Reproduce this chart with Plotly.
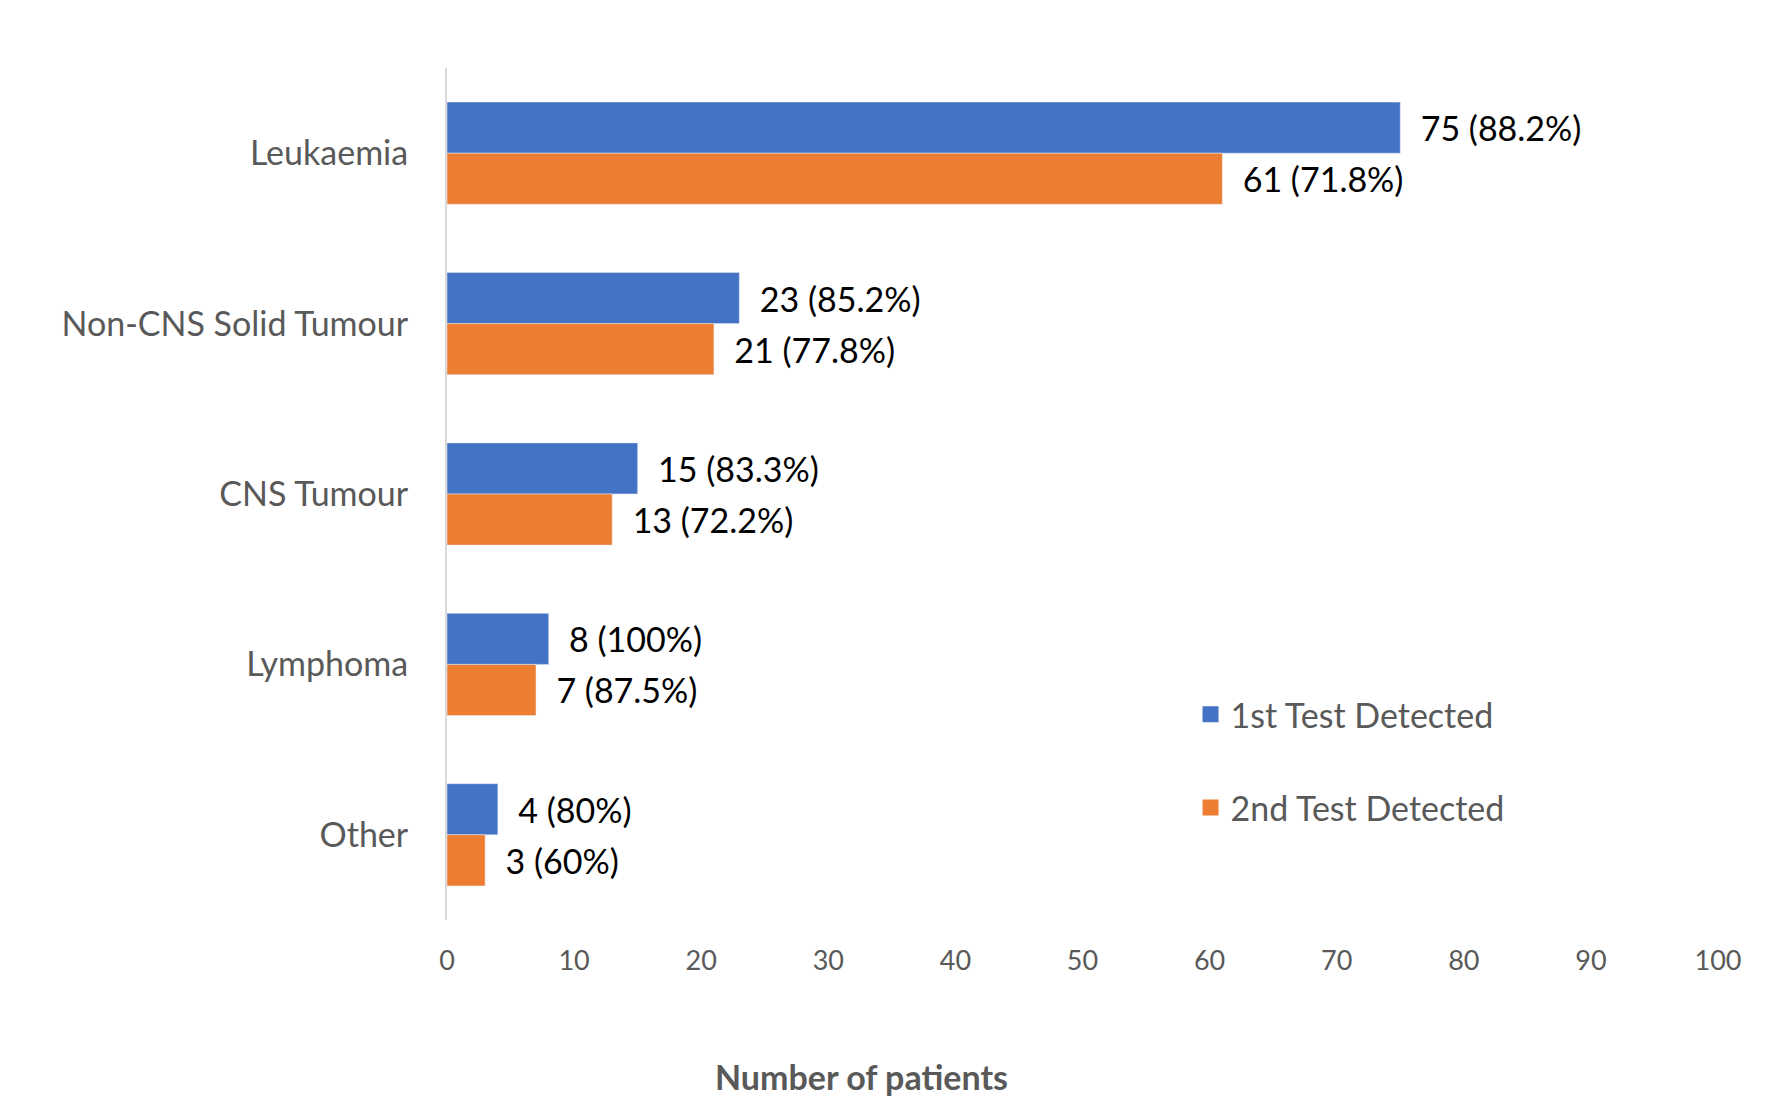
import plotly.graph_objects as go

categories = ["Leukaemia", "Non-CNS Solid Tumour", "CNS Tumour", "Lymphoma", "Other"]
first_counts = [75, 23, 15, 8, 4]
first_pct = ["88.2%", "85.2%", "83.3%", "100%", "80%"]
second_counts = [61, 21, 13, 7, 3]
second_pct = ["71.8%", "77.8%", "72.2%", "87.5%", "60%"]
x_ticks = [0, 10, 20, 30, 40, 50, 60, 70, 80, 90, 100]

FONT = "Lato, Open Sans, sans-serif"
GRAY = "#595959"
BLUE = "#4472C4"
ORANGE = "#ED7D31"
NB = "\u00a0\u00a0"

fig = go.Figure()
fig.add_trace(go.Bar(
    y=categories, x=first_counts, orientation="h", name="1st Test Detected",
    marker_color=BLUE,
    text=[f"{NB}{c} ({p})" for c, p in zip(first_counts, first_pct)],
    textposition="outside", textfont=dict(size=34, color="black", family=FONT),
    cliponaxis=False, showlegend=False,
))
fig.add_trace(go.Bar(
    y=categories, x=second_counts, orientation="h", name="2nd Test Detected",
    marker_color=ORANGE,
    text=[f"{NB}{c} ({p})" for c, p in zip(second_counts, second_pct)],
    textposition="outside", textfont=dict(size=34, color="black", family=FONT),
    cliponaxis=False, showlegend=False,
))
# legend entries with larger square swatches
for nm, col, grp in [("1st Test Detected", BLUE, "a"), ("2nd Test Detected", ORANGE, "b")]:
    fig.add_trace(go.Scatter(x=[None], y=[None], mode="markers", name=nm,
                             marker=dict(symbol="square", size=19, color=col),
                             legendgroup=grp, showlegend=True))

fig.update_layout(
    width=1782, height=1097,
    margin=dict(l=447, r=64, t=68, b=177),
    paper_bgcolor="white", plot_bgcolor="white",
    barmode="group", bargap=0.4, bargroupgap=0,
    font=dict(family=FONT, color=GRAY),
    showlegend=True,
    legend=dict(x=0.585, y=0.275, xanchor="left", yanchor="top",
                font=dict(size=34, color=GRAY, family=FONT),
                traceorder="grouped", tracegroupgap=46, itemwidth=30,
                bgcolor="rgba(0,0,0,0)"),
    xaxis=dict(range=[0, 100], tickvals=x_ticks, showgrid=False, zeroline=False,
               showline=False, tickfont=dict(size=27, color=GRAY, family=FONT),
               ticklabelstandoff=22),
    yaxis=dict(autorange="reversed", showgrid=False, showline=True, linecolor="#D9D9D9",
               linewidth=2, tickfont=dict(size=34, color=GRAY, family=FONT),
               ticklabelstandoff=30, ticks=""),
    annotations=[dict(text="<b>Number of patients</b>", xref="paper", yref="paper",
                      x=0.326, y=-0.184, xanchor="center", yanchor="middle",
                      showarrow=False, font=dict(size=34, color=GRAY, family=FONT))],
)

fig.write_html("out.html")
